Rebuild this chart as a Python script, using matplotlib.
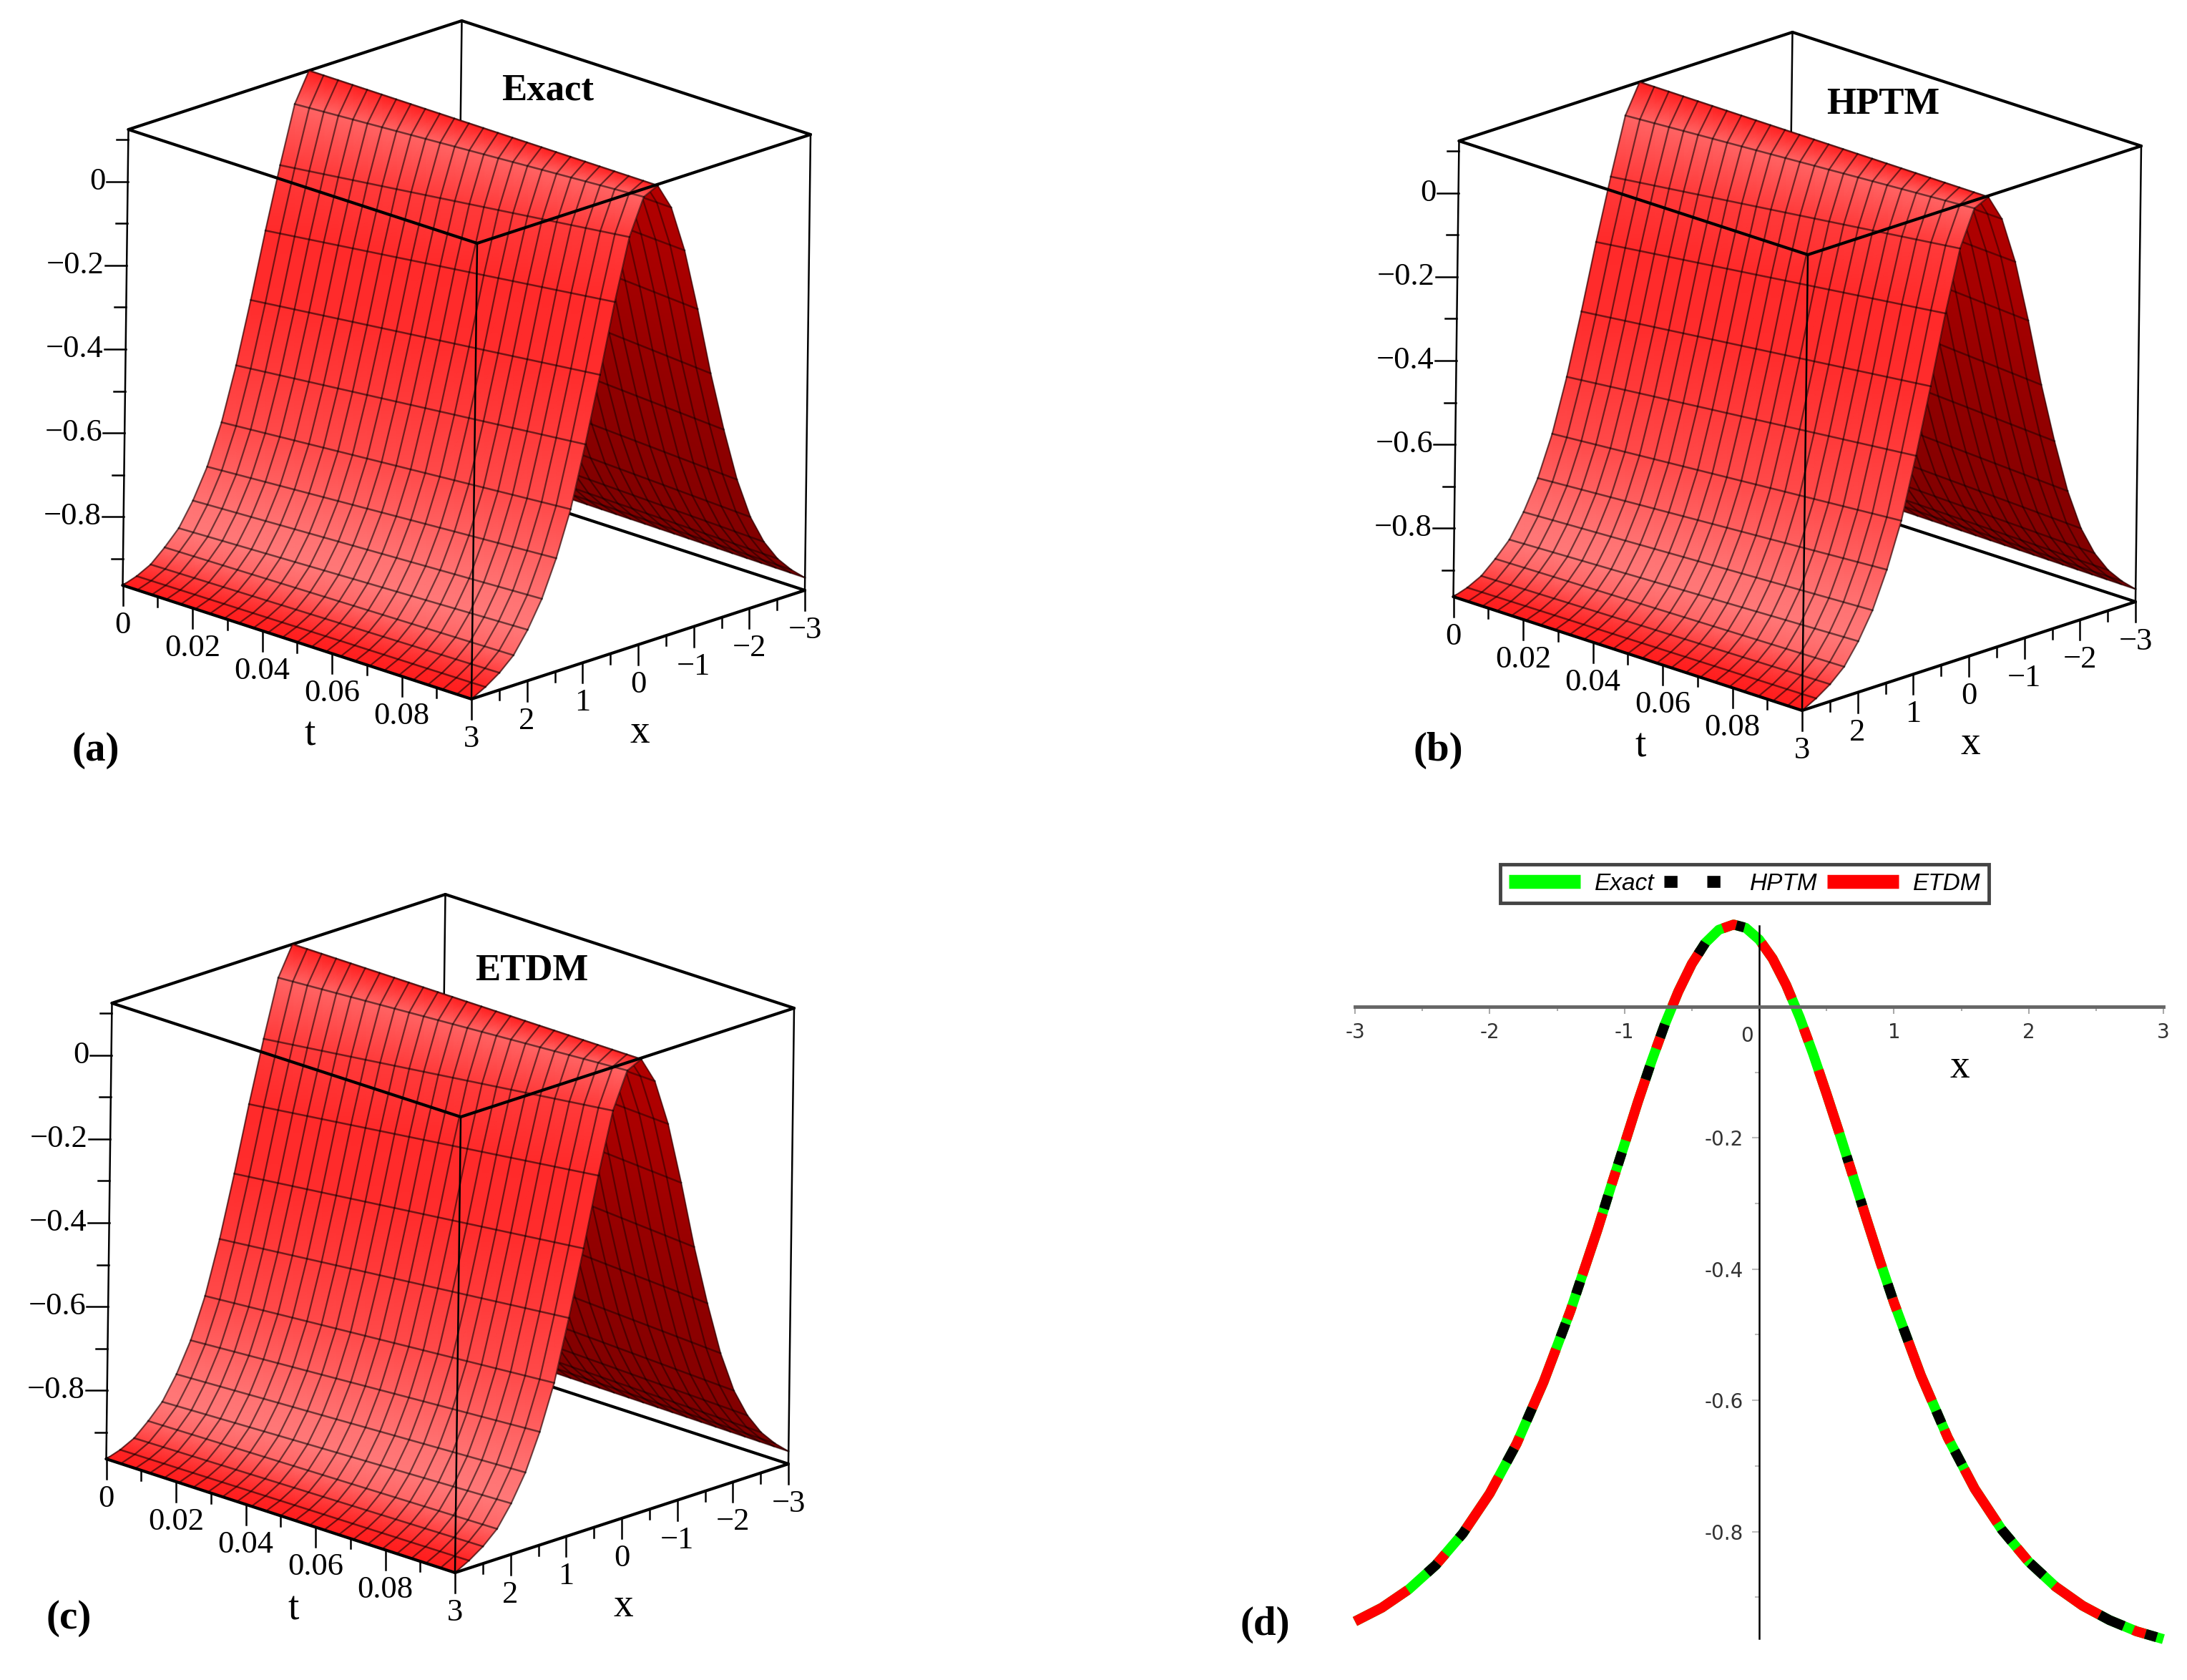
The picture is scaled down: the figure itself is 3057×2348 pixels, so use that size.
import numpy as np
import matplotlib
matplotlib.use("Agg")
import matplotlib.pyplot as plt
from matplotlib.colors import to_rgb
from matplotlib.lines import Line2D

# surface profiles (a)-(c), one value per x grid line
grid_x = [-3, -2.75, -2.5, -2.25, -2, -1.75, -1.5, -1.25, -1, -0.75, -0.5, -0.25, 0,
          0.25, 0.5, 0.75, 1, 1.25, 1.5, 1.75, 2, 2.25, 2.5, 2.75, 3]
z_at_t0 = [-0.925, -0.89, -0.85, -0.79, -0.71, -0.60, -0.465, -0.31, -0.15, -0.015, 0.08, 0.124, 0.055,
           -0.08, -0.225, -0.38, -0.525, -0.65, -0.745, -0.815, -0.87, -0.905, -0.935, -0.952, -0.963]
z_at_t1 = [-0.933, -0.903, -0.866, -0.815, -0.745, -0.645, -0.515, -0.37, -0.206, -0.055, 0.058, 0.121, 0.105,
           0.02, -0.124, -0.287, -0.442, -0.586, -0.692, -0.778, -0.841, -0.891, -0.922, -0.945, -0.963]
n_t_lines = 25

front_shades = ["#ff2020", "#ff6464", "#ff3a3a", "#ff2a2a", "#ff2c2c", "#ff3a3a", "#ff4a4a",
                "#ff6060", "#ff7272", "#ff7878", "#ff6666", "#ff4040", "#ff2525", "#ff1c1c"]
back_shades = ["#7d0000", "#7d0000", "#800000", "#820000", "#860000", "#8a0000", "#900000",
               "#980000", "#a40000", "#ac0000", "#b00000", "#b80000"]

z_major = [0, -0.2, -0.4, -0.6, -0.8]
z_minor = [0.1, -0.1, -0.3, -0.5, -0.7, -0.9]
t_major = [0, 0.02, 0.04, 0.06, 0.08]
t_minor = [0.01, 0.03, 0.05, 0.07, 0.09]
t_labels = ["0", "0.02", "0.04", "0.06", "0.08"]
x_major = [3, 2, 1, 0, -1, -2, -3]
x_minor = [2.5, 1.5, 0.5, -0.5, -1.5, -2.5]
x_labels = ["3", "2", "1", "0", "\u22121", "\u22122", "\u22123"]

# panel (d) curve
curve_x = [-3, -2.8, -2.6, -2.4, -2.2, -2, -1.8, -1.6, -1.4, -1.2, -1.1, -1, -0.9, -0.8, -0.7, -0.6, -0.5,
           -0.4, -0.3, -0.19, -0.1, 0, 0.1, 0.2, 0.3, 0.4, 0.5, 0.6, 0.7, 0.8, 0.9, 1, 1.2, 1.4, 1.6, 1.8,
           2, 2.2, 2.4, 2.6, 2.8, 3]
curve_u = [-0.937, -0.916, -0.888, -0.851, -0.803, -0.742, -0.666, -0.572, -0.463, -0.34, -0.274, -0.21,
           -0.145, -0.084, -0.027, 0.023, 0.065, 0.097, 0.117, 0.125, 0.12, 0.102, 0.073, 0.033, -0.016,
           -0.072, -0.133, -0.196, -0.261, -0.326, -0.39, -0.451, -0.562, -0.657, -0.735, -0.797, -0.846,
           -0.884, -0.913, -0.935, -0.952, -0.964]
peak_index = 19

# colour bands along the curve, given by the u value at their two ends
red_left = [(0.086, 0), (-0.047, -0.064), (-0.111, -0.204), (-0.251, -0.271), (-0.315, -0.409),
            (-0.456, -0.476), (-0.522, -0.612), (-0.656, -0.673), (-0.717, -0.796), (-0.834, -0.848),
            (-0.889, -0.937)]
black_left = [(0.097, 0.08), (-0.027, -0.047), (-0.091, -0.111), (-0.222, -0.241), (-0.288, -0.308),
              (-0.419, -0.438), (-0.483, -0.504), (-0.612, -0.631), (-0.673, -0.694), (-0.796, -0.81),
              (-0.848, -0.863)]
red_right = [(0.097, 0.012), (-0.033, -0.053), (-0.097, -0.193), (-0.237, -0.257), (-0.304, -0.398),
             (-0.444, -0.463), (-0.51, -0.601), (-0.645, -0.664), (-0.705, -0.787), (-0.825, -0.844),
             (-0.882, -0.927), (-0.95, -0.956)]
black_right = [(-0.228, -0.237), (-0.294, -0.304), (-0.423, -0.444), (-0.489, -0.51), (-0.616, -0.635),
               (-0.677, -0.698), (-0.796, -0.815), (-0.848, -0.867), (-0.927, -0.944), (-0.956, -0.961)]
red_top = (-0.27, -0.17)
black_top = (-0.17, -0.11)

d_xticks = [-3, -2, -1, 1, 2, 3]
d_xlabels = ["-3", "-2", "-1", "1", "2", "3"]
d_xminor = [-2.5, -1.5, -0.5, 0, 0.5, 1.5, 2.5]
d_yticks = [-0.2, -0.4, -0.6, -0.8]
d_ylabels = ["-0.2", "-0.4", "-0.6", "-0.8"]
d_yminor = [-0.1, -0.3, -0.5, -0.7, -0.9]

SERIF = "Liberation Serif"
Z_BOTTOM, Z_TOP = -0.963, 0.124


def project(t, x, z, dx, dy):
    """Box coordinates to figure pixels (the plots use a parallel view)"""
    g = np.asarray(t) / 0.1
    f = (3 - np.asarray(x)) / 6
    w = (np.asarray(z) - Z_BOTTOM) / (Z_TOP - Z_BOTTOM)
    px = 171.5 + 487.5 * g + 466 * f + 8 * w + dx
    py = 818 + 159 * g - 152 * f - 637 * w + dy
    return px, py


def draw_sheet(ax, ts, xs, zs, shades, dx, dy, line_alpha, zorder):
    T, X = np.meshgrid(ts, xs, indexing="xy")
    px, py = project(T, X, zs, dx, dy)
    rgb = np.array([[to_rgb(s)] * len(ts) for s in shades])
    ax.pcolormesh(px, py, rgb, shading="gouraud", zorder=zorder)
    for i in range(len(xs)):
        ax.plot(px[i], py[i], color="black", alpha=line_alpha, lw=1.8, zorder=zorder + 0.5)
    for j in range(len(ts)):
        ax.plot(px[:, j], py[:, j], color="black", alpha=line_alpha, lw=1.6, zorder=zorder + 0.5)


def draw_panel(ax, dx, dy, title, title_xy):
    def edge(a, b, lw, zorder):
        p0 = project(*a, dx, dy)
        p1 = project(*b, dx, dy)
        ax.plot([p0[0], p1[0]], [p0[1], p1[1]], color="black", lw=lw, solid_capstyle="round", zorder=zorder)

    zb, zt = Z_BOTTOM, Z_TOP
    # back part of the box, hidden by the surface later
    edge((0, -3, zb), (0, -3, zt), 1.8, 1)
    edge((0, -3, zt), (0, 3, zt), 3, 1)
    edge((0, -3, zt), (0.1, -3, zt), 3, 1)
    edge((0, -3, zb), (0.1, -3, zb), 3, 1)
    edge((0, -3, zb), (0, 3, zb), 3, 1)
    edge((0.1, -3, zb), (0.1, -3, zt), 1.8, 1)
    edge((0, 3, zb), (0, 3, zt), 1.8, 1)

    ts = np.linspace(0, 0.1, n_t_lines)
    xs = np.array(grid_x)
    blend = ts / 0.1
    zs = np.outer(z_at_t0, 1 - blend) + np.outer(z_at_t1, blend)
    ridge = grid_x.index(-0.25)
    draw_sheet(ax, ts, xs[:ridge + 1], zs[:ridge + 1], back_shades, dx, dy, 0.42, 2)
    draw_sheet(ax, ts, xs[ridge:], zs[ridge:], front_shades, dx, dy, 0.55, 3)

    # front part of the box
    edge((0, 3, zt), (0.1, 3, zt), 3, 4)
    edge((0.1, -3, zt), (0.1, 3, zt), 3, 4)
    edge((0.1, 3, zb), (0.1, 3, zt), 1.8, 4)
    edge((0, 3, zb), (0.1, 3, zb), 3, 4)
    edge((0.1, 3, zb), (0.1, -3, zb), 3, 4)

    # z axis
    for val, size in [(v, 30) for v in z_major] + [(v, 16) for v in z_minor]:
        px, py = project(0, 3, val, dx, dy)
        ax.plot([px - size, px], [py, py], color="black", lw=1.8)
    for val in z_major:
        px, py = project(0, 3, val, dx, dy)
        label = "0" if val == 0 else "\u2212%.1f" % abs(val)
        ax.text(px - 31, py, label, ha="right", va="center", fontsize=32, family=SERIF)
    # t axis
    for val, size in [(v, 28) for v in t_major] + [(v, 14) for v in t_minor]:
        px, py = project(val, 3, zb, dx, dy)
        ax.plot([px, px], [py, py + size], color="black", lw=1.8)
    for val, label in zip(t_major, t_labels):
        px, py = project(val, 3, zb, dx, dy)
        ax.text(px, py + 56, label, ha="center", va="center", fontsize=32, family=SERIF)
    # x axis
    for val, size in [(v, 28) for v in x_major] + [(v, 14) for v in x_minor]:
        px, py = project(0.1, val, zb, dx, dy)
        ax.plot([px, px], [py, py + size], color="black", lw=1.8)
    for val, label in zip(x_major, x_labels):
        px, py = project(0.1, val, zb, dx, dy)
        ax.text(px, py + 56, label, ha="center", va="center", fontsize=32, family=SERIF)

    ax.text(433 + dx, 1028 + dy, "t", ha="center", va="center", fontsize=40, family=SERIF)
    ax.text(894 + dx, 1024 + dy, "x", ha="center", va="center", fontsize=40, family=SERIF)
    ax.text(title_xy[0], title_xy[1], title, ha="center", va="center", fontsize=38,
            family=SERIF, fontweight="bold")


def flank_x(u, side):
    """x on one side of the peak where the curve has the value u"""
    if side == "left":
        return np.interp(u, curve_u[:peak_index + 1], curve_x[:peak_index + 1])
    return np.interp(u, curve_u[:peak_index - 1:-1], curve_x[:peak_index - 1:-1])


def draw_band(ax, x0, x1, color):
    x0, x1 = min(x0, x1), max(x0, x1)
    inner = [v for v in curve_x if x0 < v < x1]
    xs = [x0] + inner + [x1]
    ax.plot(xs, np.interp(xs, curve_x, curve_u), color=color, lw=10,
            solid_capstyle="butt", solid_joinstyle="round")


def main():
    fig = plt.figure(figsize=(30.57, 23.48), dpi=100)
    canvas = fig.add_axes([0, 0, 1, 1])
    canvas.set_xlim(0, 3057)
    canvas.set_ylim(2348, 0)
    canvas.axis("off")

    draw_panel(canvas, 0, 0, "Exact", (766, 127))
    draw_panel(canvas, 1860, 16, "HPTM", (2632, 146))
    draw_panel(canvas, -23, 1221, "ETDM", (743, 1357))

    for label, x, y in [("(a)", 134, 1049), ("(b)", 2010, 1049), ("(c)", 96, 2262), ("(d)", 1768, 2271)]:
        canvas.text(x, y, label, ha="center", va="center", fontsize=41, family=SERIF, fontweight="bold")

    # panel (d)
    left, right = 1894 / 3057, 3024 / 3057
    top, bottom = 1 - 1294 / 2348, 1 - 2290 / 2348
    ax = fig.add_axes([left, bottom, right - left, top - bottom])
    ax.patch.set_alpha(0)
    ax.set_xlim(-3, 3)
    ax.set_ylim(-0.963, 0.123)
    for side in ["top", "right"]:
        ax.spines[side].set_visible(False)
    ax.spines["bottom"].set_position(("data", 0))
    ax.spines["left"].set_position(("data", 0))
    ax.spines["bottom"].set_color("#666666")
    ax.spines["bottom"].set_linewidth(3.5)
    ax.spines["left"].set_linewidth(1.8)

    ax.set_xticks(d_xticks, d_xlabels)
    ax.set_xticks(d_xminor, minor=True)
    ax.set_yticks(d_yticks, d_ylabels)
    ax.set_yticks(d_yminor, minor=True)
    ax.tick_params(axis="x", which="major", length=7, width=1.5, color="#aaaaaa", pad=9,
                   labelsize=20, labelcolor="#333333")
    ax.tick_params(axis="x", which="minor", length=4, width=1.5, color="#aaaaaa")
    ax.tick_params(axis="y", which="major", length=7, width=1.5, color="#bbbbbb", pad=9,
                   labelsize=20, labelcolor="#333333")
    ax.tick_params(axis="y", which="minor", length=4, width=1.5, color="#bbbbbb")
    ax.annotate("0", (0, 0), xytext=(-12, -30), textcoords="offset points", ha="center", va="center",
                fontsize=20, color="#333333")
    ax.text(1.49, -0.093, "x", ha="center", va="center", fontsize=40, family=SERIF)

    ax.plot(curve_x, curve_u, color="#00ff00", lw=10, solid_capstyle="butt")
    for band in red_left:
        draw_band(ax, flank_x(band[0], "left"), flank_x(band[1], "left"), "#ff0000")
    for band in red_right:
        draw_band(ax, flank_x(band[0], "right"), flank_x(band[1], "right"), "#ff0000")
    draw_band(ax, red_top[0], red_top[1], "#ff0000")
    for band in black_left:
        draw_band(ax, flank_x(band[0], "left"), flank_x(band[1], "left"), "black")
    for band in black_right:
        draw_band(ax, flank_x(band[0], "right"), flank_x(band[1], "right"), "black")
    draw_band(ax, black_top[0], black_top[1], "black")
    for line in ax.get_lines():
        line.set_clip_on(False)

    handles = [Line2D([], [], color="#00ff00", lw=14, solid_capstyle="butt"),
               Line2D([], [], color="black", lw=12, dash_capstyle="butt", linestyle=(0, (1.1, 2.5))),
               Line2D([], [], color="#ff0000", lw=14, solid_capstyle="butt")]
    legend = fig.legend(handles, ["Exact", "HPTM", "ETDM"], ncols=3, loc="center",
                        bbox_to_anchor=(2438.5 / 3057, 1 - 1235 / 2348), fancybox=False, framealpha=1,
                        edgecolor="#444444", handlelength=3.0, handletextpad=0.6, columnspacing=0.4,
                        borderpad=0.35, borderaxespad=0,
                        prop={"family": "Liberation Sans", "style": "italic", "size": 24})
    legend.get_frame().set_linewidth(3.5)

    plt.savefig("out.png", dpi=100)


if __name__ == "__main__":
    main()
